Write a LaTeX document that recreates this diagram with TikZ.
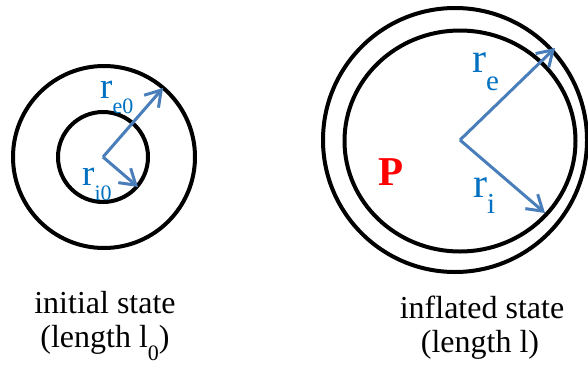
\documentclass[tikz,border=0pt]{standalone}
\usepackage{fontspec}
\setmainfont{Liberation Serif}
\usepackage{xcolor}
\usetikzlibrary{arrows.meta}
\definecolor{arrblue}{RGB}{74,126,187}
\definecolor{txtblue}{RGB}{0,112,192}

\begin{document}
\begin{tikzpicture}[x=1pt,y=-1pt,
  ring/.style={draw=black,line width=4pt},
  arr/.style={-{Straight Barb[length=15pt,width=19pt]},line width=3pt,draw=arrblue},
  lab/.style={anchor=base west,inner sep=0pt,text=txtblue},
  captext/.style={anchor=base,inner sep=0pt,font=\fontsize{32}{34}\selectfont}]
\useasboundingbox (0,0) rectangle (588,364);
\draw[ring] (104,157) circle[radius=91];
\draw[ring] (103,157) circle[radius=45];
\draw[ring] (455,140) circle[radius=132];
\draw[ring] (460,141) ellipse[x radius=115.5,y radius=110.5];
\coordinate (c0) at (103,157);
\coordinate (e0) at (163,88);
\coordinate (i0) at (138,187);
\coordinate (c1) at (460,140);
\coordinate (e1) at (555,48);
\coordinate (i1) at (545,213);
\draw[arr] (c0) -- (e0);
\draw[arr] (c0) -- (i0);
\draw[arr] (c1) -- (e1);
\draw[arr] (c1) -- (i1);
\node[lab,font=\fontsize{37}{37}\selectfont] (re0) at (100,98) {r\raisebox{-15pt}{\fontsize{22}{22}\selectfont e0}};
\node[lab,font=\fontsize{37}{37}\selectfont] (ri0) at (82,185) {r\raisebox{-15pt}{\fontsize{22}{22}\selectfont i0}};
\node[lab,font=\fontsize{42}{42}\selectfont] (re1) at (472,72) {r\raisebox{-18pt}{\fontsize{29}{29}\selectfont e}};
\node[lab,font=\fontsize{42}{42}\selectfont] (ri1) at (473,197) {r\raisebox{-16pt}{\fontsize{29}{29}\selectfont i}};
\node[anchor=base west,inner sep=0pt,text=red,font=\fontsize{41}{41}\selectfont\bfseries] (pres) at (378,185) {P};
\node[captext] (init) at (105,313) {initial state};
\node[captext] (initl) at (105,347) {(length l\raisebox{-13pt}{\fontsize{22}{22}\selectfont 0})};
\node[captext] (infl) at (482,318) {inflated state};
\node[captext] (infll) at (480,352) {(length l)};
\end{tikzpicture}
\end{document}
